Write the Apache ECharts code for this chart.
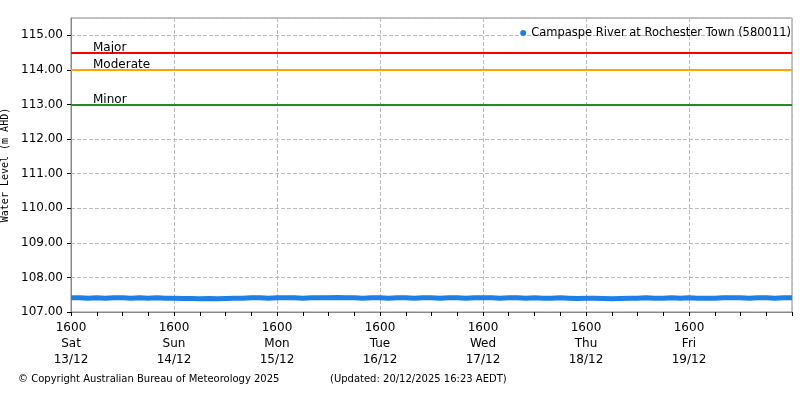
<!DOCTYPE html>
<html><head><meta charset="utf-8">
<script src="https://cdn.jsdelivr.net/npm/echarts@6/dist/echarts.min.js"></script>
<style>body{margin:0}#c{width:800px;height:400px}</style></head>
<body><div id="c"></div>
<script>
const tickLabels=["1600\nSat\n13/12","1600\nSun\n14/12","1600\nMon\n15/12","1600\nTue\n16/12","1600\nWed\n17/12","1600\nThu\n18/12","1600\nFri\n19/12",""];
const levels=[107.41,107.41,107.40,107.41,107.40,107.41,107.41,107.40,107.41,107.40,107.41,107.40,107.40,107.39,107.39,107.38,107.39,107.38,107.39,107.40,107.40,107.41,107.41,107.40,107.41,107.41,107.41,107.40,107.41,107.41,107.41,107.42,107.41,107.41,107.40,107.41,107.41,107.40,107.41,107.41,107.40,107.41,107.41,107.40,107.41,107.41,107.40,107.41,107.41,107.41,107.40,107.41,107.41,107.40,107.41,107.40,107.40,107.41,107.40,107.39,107.40,107.40,107.39,107.38,107.39,107.40,107.40,107.41,107.40,107.40,107.41,107.40,107.41,107.40,107.40,107.40,107.41,107.41,107.41,107.40,107.41,107.41,107.40,107.41,107.41];
const thresholds=[{name:"Major",value:114.5,color:"#ff0000"},{name:"Moderate",value:114.0,color:"#ffa500"},{name:"Minor",value:113.0,color:"#228b22"}];
const hours=levels.map((v,i)=>[i*2,v]);
const ch=echarts.init(document.getElementById('c'));
const f='DejaVu Sans';
ch.setOption({
 animation:false,
 grid:{left:71,right:8,top:18,bottom:88,containLabel:false,outerBoundsMode:'none'},
 legend:{right:4,top:22,data:[{name:"Campaspe River at Rochester Town (580011)",icon:"circle"}],itemWidth:6,itemHeight:6,itemGap:4,textStyle:{fontFamily:f,fontSize:11.5,color:'#000'}},
 xAxis:{type:'value',min:0,max:168,interval:24,
  axisLine:{lineStyle:{color:'#888'}},axisTick:{length:4,lineStyle:{color:'#000'}},
  minorTick:{show:true,splitNumber:4,length:4,lineStyle:{color:'#000'}},
  splitLine:{show:true,lineStyle:{type:'dashed',color:'#bbb'}},
  axisLabel:{fontFamily:f,fontSize:12,color:'#000',lineHeight:16,formatter:v=>tickLabels[v/24]}},
 yAxis:{type:'value',min:107,max:115.5,interval:1,name:'Water Level (m AHD)',nameLocation:'middle',nameGap:52,
  nameTextStyle:{fontFamily:'DejaVu Sans Mono',fontSize:10,color:'#000'},
  axisLine:{show:true,lineStyle:{color:'#888'}},axisTick:{show:true,length:4,lineStyle:{color:'#000'}},
  splitLine:{lineStyle:{type:'dashed',color:'#bbb'}},
  axisLabel:{fontFamily:f,fontSize:12,color:'#000',showMaxLabel:false,formatter:v=>v.toFixed(2)}},
 series:[{name:"Campaspe River at Rochester Town (580011)",type:'line',data:hours,showSymbol:false,symbol:'circle',
  lineStyle:{width:5,color:'#1e7fe6'},itemStyle:{color:'#1e7fe6'},
  markLine:{silent:true,symbol:'none',data:thresholds.map(t=>({yAxis:t.value,lineStyle:{color:t.color,width:2,type:'solid'},
   label:{show:true,position:'insideStartTop',formatter:t.name,distance:[22,-1],fontFamily:f,fontSize:12,color:'#000'}}))}}],
 graphic:[
  {type:'text',left:18,top:374,style:{text:'© Copyright Australian Bureau of Meteorology 2025',font:'10px DejaVu Sans',fill:'#000'}},
  {type:'text',left:330,top:374,style:{text:'(Updated: 20/12/2025 16:23 AEDT)',font:'10px DejaVu Sans',fill:'#000'}},
  {type:'rect',shape:{x:71,y:18,width:721,height:294},style:{fill:'none',stroke:'#888'}}
 ]
});
</script></body></html>
